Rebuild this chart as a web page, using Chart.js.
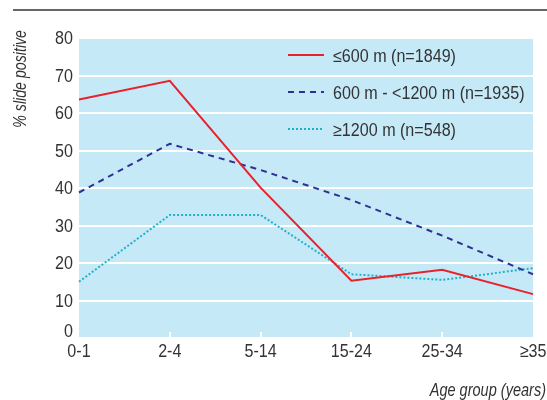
<!DOCTYPE html>
<html><head><meta charset="utf-8">
<script src="https://cdn.jsdelivr.net/npm/chart.js@4"></script>
<style>html,body{margin:0;padding:0;background:#fff}#wrap{width:547px;height:400px;position:relative}</style>
</head><body><div id="wrap"><canvas id="c" width="547" height="400"></canvas></div>
<script>
const categories = ["0-1","2-4","5-14","15-24","25-34","\u226535"];
const lowAlt = [63.6, 68.6, 40.1, 15.3, 18.2, 11.7];
const midAlt = [38.8, 51.8, 44.8, 36.8, 27.3, 17.0];
const highAlt = [15.0, 32.8, 32.8, 17.0, 15.5, 18.6];
const seriesLabels = ["\u2264600 m (n=1849)", "600 m - <1200 m (n=1935)", "\u22651200 m (n=548)"];
const yTicks = [0,10,20,30,40,50,60,70,80];
const yTitle = "% slide positive";
const xTitle = "Age group (years)";

const FONT = "'Liberation Sans', Arial, sans-serif";
const TXT = "#333";

function sText(ctx, text, x, y, align, sx) {
  ctx.save();
  ctx.translate(x, y);
  ctx.scale(sx, 1);
  ctx.textAlign = align;
  ctx.fillText(text, 0, 0);
  ctx.restore();
}

const deco = {
  id: 'deco',
  beforeDraw(chart) {
    const {ctx, chartArea: a} = chart;
    ctx.save();
    ctx.fillStyle = 'rgb(198,233,248)';
    ctx.fillRect(a.left, a.top, a.right - a.left, a.bottom - a.top);
    ctx.strokeStyle = '#333'; ctx.lineWidth = 1.5;
    ctx.beginPath(); ctx.moveTo(13, 10); ctx.lineTo(547, 10); ctx.stroke();
    ctx.restore();
  },
  afterDatasetsDraw(chart) {
    const {ctx, chartArea: a, scales: {x, y}} = chart;
    ctx.save();
    // x tick marks
    ctx.strokeStyle = '#fff'; ctx.lineWidth = 2;
    for (let i = 1; i < categories.length - 1; i++) {
      const px = Math.round(x.getPixelForValue(i));
      ctx.beginPath(); ctx.moveTo(px, a.bottom - 6); ctx.lineTo(px, a.bottom); ctx.stroke();
    }
    // y tick labels
    ctx.fillStyle = TXT; ctx.font = "18.5px " + FONT;
    ctx.textBaseline = 'middle';
    const tsx = 0.87;
    yTicks.forEach(v => sText(ctx, String(v), 73, y.getPixelForValue(v) + (v === 0 ? -6 : 1), 'right', tsx));
    // x tick labels
    categories.forEach((c, i) => {
      const px = x.getPixelForValue(i);
      const w = ctx.measureText(c).width * tsx;
      let left = px - w / 2;
      if (left + w > 547) left = 547 - w;
      sText(ctx, c, left, a.bottom + 14, 'left', tsx);
    });
    // axis titles
    ctx.font = "italic 17.5px " + FONT;
    ctx.textBaseline = 'alphabetic';
    sText(ctx, xTitle, 546, 396, 'right', 0.83);
    ctx.save();
    ctx.translate(25.5, 30); ctx.rotate(-Math.PI / 2);
    sText(ctx, yTitle, 0, 0, 'right', 0.81);
    ctx.restore();
    // legend
    ctx.font = "17.5px " + FONT;
    ctx.textBaseline = 'middle';
    const rows = [55, 92, 129];
    chart.data.datasets.forEach((ds, i) => {
      ctx.strokeStyle = ds.borderColor;
      ctx.lineWidth = ds.borderWidth;
      ctx.setLineDash(ds.borderDash || []);
      ctx.beginPath(); ctx.moveTo(288, rows[i]); ctx.lineTo(324, rows[i]); ctx.stroke();
      ctx.setLineDash([]);
      ctx.fillStyle = TXT;
      sText(ctx, ds.label, 333, rows[i] + 2, 'left', 0.92);
    });
    ctx.restore();
  }
};

new Chart(document.getElementById('c'), {
  type: 'line',
  data: {
    labels: categories,
    datasets: [
      {label: seriesLabels[0], data: lowAlt, borderColor: '#e8212b', borderWidth: 2, pointRadius: 0, tension: 0, fill: false},
      {label: seriesLabels[1], data: midAlt, borderColor: '#2e3192', borderWidth: 2, borderDash: [6,5], pointRadius: 0, tension: 0, fill: false},
      {label: seriesLabels[2], data: highAlt, borderColor: '#1fb1c9', borderWidth: 2, borderDash: [2,2], pointRadius: 0, tension: 0, fill: false}
    ]
  },
  options: {
    responsive: false, animation: false, devicePixelRatio: 1,
    layout: {padding: {left: 79, right: 14, top: 38, bottom: 62}},
    plugins: {legend: {display: false}, tooltip: {enabled: false}},
    scales: {
      x: {
        offset: false,
        ticks: {display: false},
        grid: {display: false},
        border: {display: false},
        afterFit(s) { s.height = 0; }
      },
      y: {
        min: 0, max: 80,
        afterBuildTicks(s) { s.ticks = yTicks.map(v => ({value: v})); },
        ticks: {display: false},
        grid: {color: '#fff', lineWidth: 2, drawTicks: false},
        border: {display: false},
        afterFit(s) { s.width = 0; }
      }
    }
  },
  plugins: [deco]
});
</script>
</body></html>
